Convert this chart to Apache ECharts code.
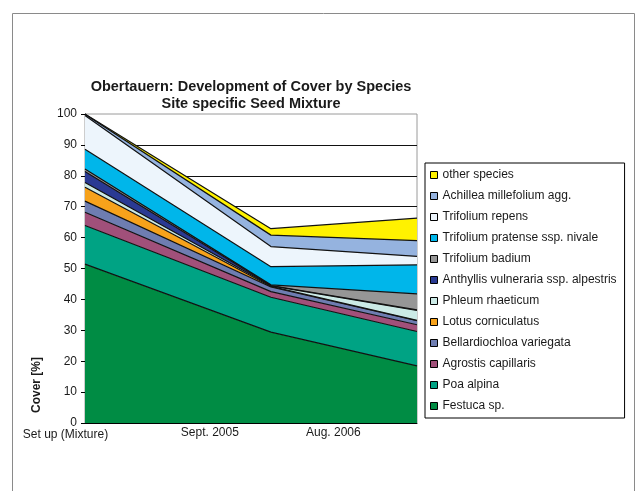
<!DOCTYPE html>
<html>
<head>
<meta charset="utf-8">
<title>Obertauern: Development of Cover by Species</title>
<script src="https://cdn.jsdelivr.net/npm/echarts@6/dist/echarts.min.js"></script>
<style>
  html, body { margin: 0; padding: 0; background: #fff; }
  #chart { width: 636px; height: 491px; }
</style>
</head>
<body>
<div id="chart"></div>
<script>
// Sampling dates and their offsets (months after sowing)
const sampleLabels = ['Set up (Mixture)', 'Sept. 2005', 'Aug. 2006'];
const monthsSinceSetup = [0, 14, 25];

// Cover [%] per species at each sampling date (stacked from the bottom up)
const festuca        = [51.4, 29.4, 18.5];
const poaAlpina      = [12.5, 11.3, 11.1];
const agrostis       = [4.3, 1.8, 2.2];
const bellardiochloa = [3.6, 1.5, 1.3];
const lotus          = [4.5, 0.2, 0.1];
const phleum         = [1.5, 0.2, 3.2];
const anthyllis      = [3.6, 0.1, 0.2];
const trifBadium     = [0.8, 0.2, 5.2];
const trifPratense   = [6.4, 5.9, 9.4];
const trifRepens     = [10.9, 6.5, 2.7];
const achillea       = [0.4, 3.7, 5.1];
const otherSpecies   = [0.1, 2.1, 7.3];

// Y axis ticks
const yTicks = { min: 0, max: 100, step: 10 };

const layers = [
  { name: 'Festuca sp.', values: festuca },
  { name: 'Poa alpina', values: poaAlpina },
  { name: 'Agrostis capillaris', values: agrostis },
  { name: 'Bellardiochloa variegata', values: bellardiochloa },
  { name: 'Lotus corniculatus', values: lotus },
  { name: 'Phleum rhaeticum', values: phleum },
  { name: 'Anthyllis vulneraria ssp. alpestris', values: anthyllis },
  { name: 'Trifolium badium', values: trifBadium },
  { name: 'Trifolium pratense ssp. nivale', values: trifPratense },
  { name: 'Trifolium repens', values: trifRepens },
  { name: 'Achillea millefolium agg.', values: achillea },
  { name: 'other species', values: otherSpecies }
];

const fillColors = {
  'Festuca sp.': '#008C44',
  'Poa alpina': '#00A384',
  'Agrostis capillaris': '#A1507A',
  'Bellardiochloa variegata': '#6E7DB1',
  'Lotus corniculatus': '#F7A21B',
  'Phleum rhaeticum': '#CBEAE6',
  'Anthyllis vulneraria ssp. alpestris': '#2A3A93',
  'Trifolium badium': '#969696',
  'Trifolium pratense ssp. nivale': '#00B6EA',
  'Trifolium repens': '#EDF5FC',
  'Achillea millefolium agg.': '#95B3DF',
  'other species': '#FFF200'
};

const FONT = 'Arial, "Liberation Sans", sans-serif';

// cover comes first in each record so that it is the stacked dimension
const series = layers.map(function (layer) {
  const c = fillColors[layer.name];
  return {
    name: layer.name,
    type: 'line',
    stack: 'cover',
    showSymbol: false,
    symbol: 'none',
    color: c,
    itemStyle: { color: c },
    lineStyle: { color: '#111', width: 1.2 },
    areaStyle: { color: c, opacity: 1 },
    emphasis: { disabled: true },
    dimensions: ['cover', 'month'],
    encode: { x: 'month', y: 'cover' },
    data: layer.values.map(function (v, i) { return [v, monthsSinceSetup[i]]; })
  };
});

// where the three date captions sit along the axis (months)
const captionAt = [0, 9.4, 18.7];

const chart = echarts.init(document.getElementById('chart'), null, { renderer: 'canvas' });

chart.setOption({
  animation: false,
  backgroundColor: '#ffffff',
  title: {
    text: 'Obertauern: Development of Cover by Species\nSite specific Seed Mixture',
    left: 251,
    top: 78,
    textAlign: 'center',
    padding: 0,
    textStyle: {
      fontFamily: FONT,
      fontSize: 14.5,
      fontWeight: 'bold',
      color: '#1a1a1a',
      lineHeight: 17
    }
  },
  legend: {
    orient: 'vertical',
    left: 425,
    top: 163,
    padding: [6, 8, 6, 5],
    itemGap: 9,
    itemWidth: 7,
    itemHeight: 7,
    icon: 'rect',
    borderColor: '#000',
    borderWidth: 1,
    borderRadius: 0,
    backgroundColor: '#fff',
    selectedMode: false,
    itemStyle: { borderColor: '#000', borderWidth: 1 },
    textStyle: { fontFamily: FONT, fontSize: 12, color: '#1a1a1a' },
    data: layers.map(function (l) { return l.name; }).reverse()
  },
  grid: {
    left: 85,
    right: 219,
    top: 114,
    bottom: 68,
    show: true,
    borderColor: '#9a9a9a',
    borderWidth: 1,
    backgroundColor: '#fff',
    containLabel: false,
    outerBoundsMode: 'none'
  },
  xAxis: {
    type: 'value',
    min: monthsSinceSetup[0],
    max: monthsSinceSetup[monthsSinceSetup.length - 1],
    axisLine: { show: true, onZero: false, lineStyle: { color: '#000', width: 1 } },
    axisTick: { show: false },
    splitLine: { show: false },
    axisLabel: {
      customValues: captionAt,
      showMinLabel: true,
      hideOverlap: false,
      margin: 4,
      fontFamily: FONT,
      fontSize: 12,
      color: '#1a1a1a',
      formatter: function (value) {
        const idx = captionAt.indexOf(value);
        const text = idx >= 0 ? sampleLabels[idx] : '';
        return idx === 0 ? '{first|' + text + '}' : '{n|' + text + '}';
      },
      rich: {
        first: { fontFamily: FONT, fontSize: 12, color: '#1a1a1a', padding: [2, 39, 0, 0] },
        n: { fontFamily: FONT, fontSize: 12, color: '#1a1a1a' }
      }
    }
  },
  yAxis: {
    type: 'value',
    min: yTicks.min,
    max: yTicks.max,
    interval: yTicks.step,
    axisLine: { show: true, lineStyle: { color: '#000', width: 1 } },
    axisTick: { show: true, inside: false, length: 4, lineStyle: { color: '#000', width: 1 } },
    splitLine: { show: true, showMaxLine: false, lineStyle: { color: '#111', width: 1 } },
    axisLabel: { margin: 8, fontFamily: FONT, fontSize: 12, color: '#1a1a1a' }
  },
  graphic: [
    {
      type: 'rect',
      silent: true,
      z: -10,
      shape: { x: 12.5, y: 13.5, width: 622, height: 490 },
      style: { fill: 'none', stroke: '#8a8a8a', lineWidth: 1 }
    },
    {
      type: 'text',
      silent: true,
      x: 36.5,
      y: 385,
      rotation: Math.PI / 2,
      style: {
        text: 'Cover [%]',
        align: 'center',
        verticalAlign: 'middle',
        font: 'bold 12px ' + FONT,
        fill: '#1a1a1a'
      }
    }
  ],
  series: series
});
</script>
</body>
</html>
